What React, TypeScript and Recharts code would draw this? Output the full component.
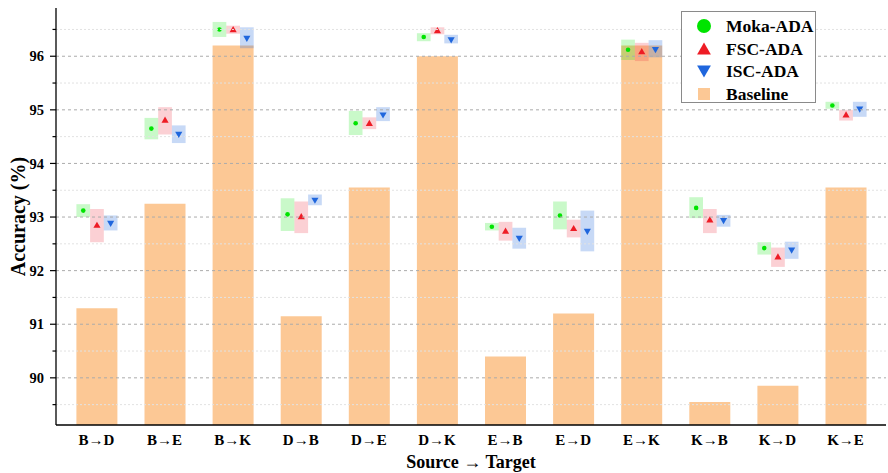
import React from 'react';
import { ComposedChart, Bar, XAxis, YAxis, ReferenceLine } from 'recharts';

const categories = ['B\u2192D', 'B\u2192E', 'B\u2192K', 'D\u2192B', 'D\u2192E', 'D\u2192K', 'E\u2192B', 'E\u2192D', 'E\u2192K', 'K\u2192B', 'K\u2192D', 'K\u2192E'];
const baseline = [91.3, 93.25, 96.2, 91.15, 93.55, 96.0, 90.4, 91.2, 96.2, 89.55, 89.85, 93.55];

const moka = [93.12, 94.65, 96.5, 93.05, 94.75, 96.36, 92.82, 93.03, 96.12, 93.17, 92.42, 95.08];
const mokaLo = [93.0, 94.45, 96.36, 92.74, 94.53, 96.28, 92.75, 92.77, 95.93, 92.98, 92.3, 95.02];
const mokaHi = [93.24, 94.85, 96.64, 93.35, 94.98, 96.43, 92.89, 93.29, 96.31, 93.37, 92.53, 95.15];

const fsc = [92.85, 94.81, 96.5, 93.01, 94.75, 96.48, 92.74, 92.79, 96.09, 92.95, 92.26, 94.91];
const fscLo = [92.53, 94.54, 96.42, 92.7, 94.64, 96.41, 92.56, 92.62, 95.91, 92.7, 92.07, 94.8];
const fscHi = [93.15, 95.05, 96.57, 93.29, 94.86, 96.54, 92.91, 92.95, 96.25, 93.15, 92.43, 95.0];

const isc = [92.88, 94.54, 96.33, 93.31, 94.9, 96.3, 92.6, 92.73, 96.12, 92.93, 92.38, 95.01];
const iscLo = [92.75, 94.38, 96.15, 93.22, 94.79, 96.24, 92.41, 92.36, 95.98, 92.82, 92.22, 94.87];
const iscHi = [93.03, 94.71, 96.54, 93.42, 95.05, 96.4, 92.8, 93.12, 96.3, 93.04, 92.54, 95.15];

const yDomain = [89.12, 96.9];
const yTicks = [89.5, 90, 90.5, 91, 91.5, 92, 92.5, 93, 93.5, 94, 94.5, 95, 95.5, 96, 96.5];
const majorGrid = [90, 91, 92, 93, 94, 95, 96];
const minorGrid = [89.5, 90.5, 91.5, 92.5, 93.5, 94.5, 95.5, 96.5];

const legendItems = [
  { name: 'Moka-ADA', kind: 'circle', color: '#00e400' },
  { name: 'FSC-ADA', kind: 'up', color: '#ee1c25' },
  { name: 'ISC-ADA', kind: 'down', color: '#1f66dd' },
  { name: 'Baseline', kind: 'square', color: '#fcc895' },
];

const data = categories.map((c, i) => ({
  cat: c,
  baseline: baseline[i],
  moka: moka[i], mokaLo: mokaLo[i], mokaHi: mokaHi[i],
  fsc: fsc[i], fscLo: fscLo[i], fscHi: fscHi[i],
  isc: isc[i], iscLo: iscLo[i], iscHi: iscHi[i],
}));

const FONT = '"Liberation Serif", "Times New Roman", serif';

function Marker({ kind, cx, cy, s, color }: any) {
  if (kind === 'circle') return <circle cx={cx} cy={cy} r={s} fill={color} />;
  if (kind === 'up') return <polygon points={`${cx - s * 1.15},${cy + s * 0.9} ${cx + s * 1.15},${cy + s * 0.9} ${cx},${cy - s * 1.1}`} fill={color} />;
  if (kind === 'down') return <polygon points={`${cx - s * 1.15},${cy - s * 0.9} ${cx + s * 1.15},${cy - s * 0.9} ${cx},${cy + s * 1.1}`} fill={color} />;
  return <rect x={cx - s} y={cy - s} width={s * 2} height={s * 2} fill={color} />;
}

const makeBoxShape = (boxFill: string, color: string, kind: string, key: string) => (props: any) => {
  const { x, y, width, height, payload } = props;
  const top = Math.min(y, y + height);
  const h = Math.abs(height);
  const lo = payload[key + 'Lo'];
  const hi = payload[key + 'Hi'];
  const v = payload[key];
  const cy = top + ((hi - v) / (hi - lo)) * h;
  const cx = x + width / 2;
  return (
    <g>
      <rect x={x} y={top} width={width} height={h} fill={boxFill} />
      <Marker kind={kind} cx={cx} cy={cy} s={kind === 'circle' ? 2.3 : 3.1} color={color} />
    </g>
  );
};

const YTick = (props: any) => {
  const { x, y, payload } = props;
  const axisX = x + 12;
  const major = Math.abs(payload.value - Math.round(payload.value)) < 1e-6;
  return (
    <g>
      <line x1={axisX - (major ? 6 : 3.5)} x2={axisX} y1={y} y2={y} stroke="#000" strokeWidth={1.2} />
      {major && (
        <text x={x} y={y} dy="0.36em" textAnchor="end" fontFamily={FONT} fontWeight="bold" fontSize={14.5} fill="#000">
          {payload.value}
        </text>
      )}
    </g>
  );
};

const YLabel = (props: any) => {
  const vb = props.viewBox || {};
  const cy = vb.y + vb.height / 2;
  return (
    <text x={18} y={cy} transform={`rotate(-90, 18, ${cy})`} textAnchor="middle" dy="0.35em" fontFamily={FONT} fontWeight="bold" fontSize={20} fill="#000">
      Accuracy (%)
    </text>
  );
};

const XLabel = (props: any) => {
  const vb = props.viewBox || {};
  const cx = vb.x + vb.width / 2;
  return (
    <text x={cx} y={468} textAnchor="middle" fontFamily={FONT} fontWeight="bold" fontSize={18} fill="#000">
      {'Source \u2192 Target'}
    </text>
  );
};

function LegendBox() {
  return (
    <div style={{ position: 'absolute', left: 681, top: 11, width: 135, height: 92, border: '1px solid #8a8a8a', background: '#fff', boxSizing: 'border-box' }}>
      {legendItems.map((it, i) => (
        <div key={it.name} style={{ position: 'absolute', left: 0, top: 3 + i * 22.6, height: 22, width: 133 }}>
          <svg width={30} height={22} style={{ position: 'absolute', left: 7, top: 0 }}>
            <Marker kind={it.kind} cx={15} cy={11} s={it.kind === 'circle' ? 7 : 6} color={it.color} />
          </svg>
          <span style={{ position: 'absolute', left: 44, top: 0, lineHeight: '22px', fontFamily: FONT, fontWeight: 'bold', fontSize: 17.5, color: '#000', whiteSpace: 'nowrap' }}>
            {it.name}
          </span>
        </div>
      ))}
    </div>
  );
}

export default function App() {
  return (
    <div style={{ position: 'absolute', left: 0, top: 0, width: 888, height: 473, background: '#fff' }}>
      <ComposedChart width={888} height={473} data={data} margin={{ top: 8, right: 2, left: 0, bottom: 18 }} barGap={0}>
        <XAxis
          dataKey="cat"
          height={30}
          padding={{ left: 6.4, right: 6.4 }}
          tickLine={false}
          tickMargin={3}
          axisLine={{ stroke: '#000', strokeWidth: 1.3 }}
          tick={{ fontFamily: FONT, fontWeight: 'bold', fontSize: 15, fill: '#000' }}
          interval={0}
          label={<XLabel />}
        />
        <XAxis xAxisId="err" dataKey="cat" hide padding={{ left: 6.4, right: 6.4 }} />
        <YAxis
          type="number"
          domain={yDomain}
          ticks={yTicks}
          interval={0}
          width={56}
          tickSize={6}
          tickMargin={6}
          tickLine={false}
          axisLine={{ stroke: '#000', strokeWidth: 1.3 }}
          tick={<YTick />}
          label={<YLabel />}
        />
        <Bar dataKey="baseline" fill="#fcc895" barSize={41} isAnimationActive={false} />
        {minorGrid.map((v) => (
          <ReferenceLine key={'mi' + v} y={v} stroke="#e2e2e2" strokeDasharray="2 2" strokeWidth={1} />
        ))}
        {majorGrid.map((v) => (
          <ReferenceLine key={'ma' + v} y={v} stroke="#ababab" strokeDasharray="3 3" strokeWidth={1} />
        ))}
        <Bar xAxisId="err" dataKey={(d: any) => [d.mokaLo, d.mokaHi]} name="Moka-ADA" barSize={13.7} isAnimationActive={false} shape={makeBoxShape('rgba(0,225,0,0.21)', '#00e400', 'circle', 'moka')} />
        <Bar xAxisId="err" dataKey={(d: any) => [d.fscLo, d.fscHi]} name="FSC-ADA" barSize={13.7} isAnimationActive={false} shape={makeBoxShape('rgba(235,40,60,0.22)', '#ee1c25', 'up', 'fsc')} />
        <Bar xAxisId="err" dataKey={(d: any) => [d.iscLo, d.iscHi]} name="ISC-ADA" barSize={13.7} isAnimationActive={false} shape={makeBoxShape('rgba(40,110,220,0.26)', '#1f66dd', 'down', 'isc')} />
      </ComposedChart>
      <LegendBox />
    </div>
  );
}
